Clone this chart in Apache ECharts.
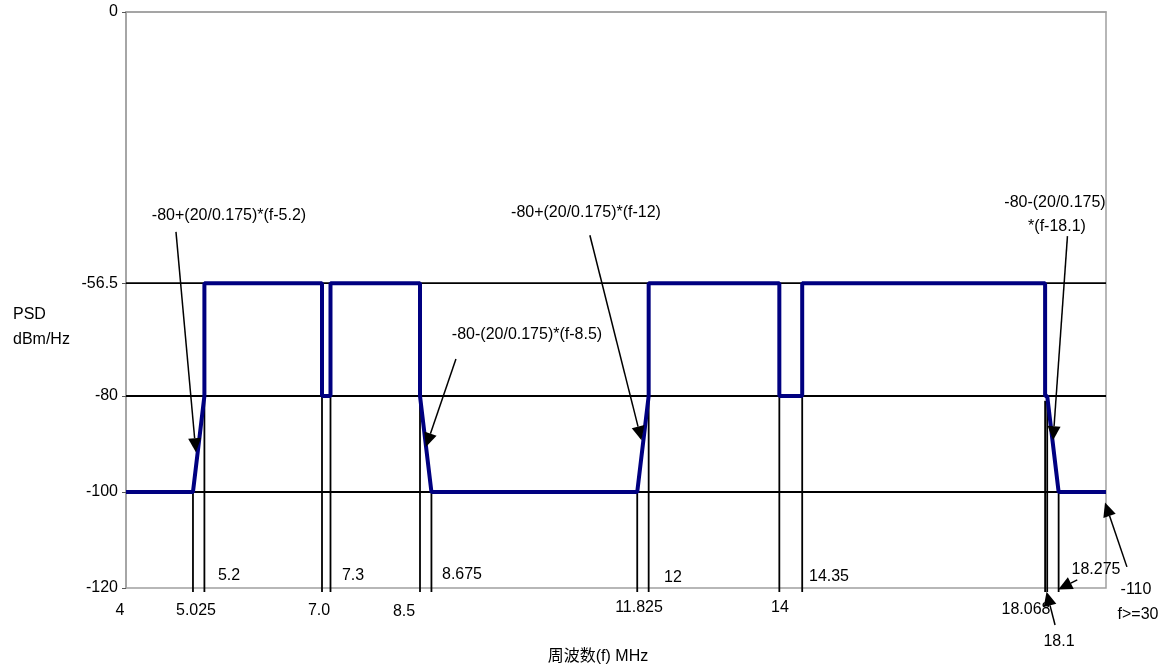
<!DOCTYPE html>
<html>
<head>
<meta charset="utf-8">
<script src="https://cdn.jsdelivr.net/npm/echarts@6/dist/echarts.min.js"></script>
<style>
  html, body { margin: 0; padding: 0; background: #fff; }
  #chart { width: 1172px; height: 670px; }
</style>
</head>
<body>
<div id="chart"></div>
<script>
// PSD mask (step outline), MHz / dBm/Hz
var freq = [4, 5.025, 5.2, 5.2, 7.0, 7.0, 7.13, 7.13, 8.5, 8.5, 8.675, 11.825, 12, 12, 14, 14, 14.35, 14.35, 18.068, 18.068, 18.1, 18.275, 19];
var psd = [-100, -100, -80, -56.5, -56.5, -80, -80, -56.5, -56.5, -80, -100, -100, -80, -56.5, -56.5, -80, -80, -56.5, -56.5, -80, -80, -100, -100];

// vertical guide lines (frequency, level they start from)
var guideFreq = [5.025, 5.2, 7.0, 7.13, 8.5, 8.675, 11.825, 12, 14, 14.35, 18.068, 18.1, 18.275];
var guideTop = [-100, -80, -80, -80, -80, -100, -100, -76, -80, -80, -81, -80, -100];

// horizontal reference levels and y tick labels
var levels = [-56.5, -80, -100];
var yTicks = [0, -56.5, -80, -100, -120];

// annotation arrows: [fromFreq, fromPsd, toFreq, toPsd]
var arrows = [
  [4.765, -45.8, 5.07, -91.7],
  [9.05, -72.3, 8.59, -90.6],
  [11.10, -46.5, 11.89, -89.2],
  [18.41, -46.7, 18.19, -89.2],
  [18.22, -127.7, 18.09, -120.8],
  [18.56, -118.3, 18.27, -120.3],
  [19.32, -115.6, 18.985, -102.2]
];

var font = '"Liberation Sans", Arial, "Noto Sans CJK SC", sans-serif';

// text placed on the picture
var texts = [
  ['5.2', 229, 576], ['7.3', 353, 576], ['8.675', 462, 575], ['12', 673, 578],
  ['14.35', 829, 577], ['18.275', 1096, 570],
  ['4', 120, 611], ['5.025', 196, 611], ['7.0', 319, 611], ['8.5', 404, 612],
  ['11.825', 639, 608], ['14', 780, 608], ['18.068', 1026, 610],
  ['18.1', 1059, 642], ['-110', 1136, 590], ['f>=30', 1138, 615],
  ['-80+(20/0.175)*(f-5.2)', 229, 216],
  ['-80-(20/0.175)*(f-8.5)', 527, 335],
  ['-80+(20/0.175)*(f-12)', 586, 213],
  ['-80-(20/0.175)', 1055, 203], ['*(f-18.1)', 1057, 227],
  ['周波数(f) MHz', 598, 657]
];

var chart = echarts.init(document.getElementById('chart'));

var graphics = texts.map(function (t) {
  return {
    type: 'text', x: t[1], y: t[2], z: 10,
    style: { text: t[0], fill: '#000', font: '16px ' + font, align: 'center', verticalAlign: 'middle' }
  };
});
graphics.push({ type: 'text', x: 13, y: 315, style: { text: 'PSD', fill: '#000', font: '16px ' + font, align: 'left', verticalAlign: 'middle' } });
graphics.push({ type: 'text', x: 13, y: 340, style: { text: 'dBm/Hz', fill: '#000', font: '16px ' + font, align: 'left', verticalAlign: 'middle' } });

var option = {
  animation: false,
  backgroundColor: '#fff',
  grid: { left: 126, right: 66, top: 12, bottom: 82, show: true, borderColor: '#a0a0a0', borderWidth: 1.5 },
  xAxis: {
    type: 'value', min: 4, max: 19,
    axisLine: { show: true, lineStyle: { color: '#a0a0a0', width: 1.5 } },
    axisTick: { show: false },
    axisLabel: { show: false },
    splitLine: { show: false }
  },
  yAxis: {
    type: 'value', min: -120, max: 0,
    axisLine: { show: true, lineStyle: { color: '#a0a0a0', width: 1.5 } },
    axisTick: { show: true, customValues: yTicks, length: 4, lineStyle: { color: '#555' } },
    axisLabel: { customValues: yTicks, color: '#000', fontSize: 16, fontFamily: font, margin: 8 },
    splitLine: { show: false }
  },
  graphic: graphics,
  series: [
    {
      // horizontal level lines
      type: 'custom', z: 1, clip: false, silent: true,
      data: levels.map(function (v) { return [4, v]; }),
      renderItem: function (params, api) {
        var p = api.coord([api.value(0), api.value(1)]);
        var cs = params.coordSys;
        return { type: 'line', shape: { x1: cs.x, y1: p[1], x2: cs.x + cs.width, y2: p[1] }, style: { stroke: '#000', lineWidth: 1.8 } };
      }
    },
    {
      // vertical guide lines
      type: 'custom', z: 1, clip: false, silent: true,
      data: guideFreq.map(function (f, i) { return [f, guideTop[i]]; }),
      renderItem: function (params, api) {
        var top = api.coord([api.value(0), api.value(1)]);
        var base = api.coord([api.value(0), -120]);
        return { type: 'line', shape: { x1: top[0], y1: top[1], x2: top[0], y2: base[1] + 4 }, style: { stroke: '#000', lineWidth: 1.8 } };
      }
    },
    {
      type: 'line', z: 3,
      data: freq.map(function (f, i) { return [f, psd[i]]; }),
      showSymbol: false,
      lineStyle: { color: '#000080', width: 4 }
    },
    {
      // annotation arrows
      type: 'custom', z: 4, clip: false, silent: true,
      data: arrows,
      renderItem: function (params, api) {
        var a = api.coord([api.value(0), api.value(1)]);
        var b = api.coord([api.value(2), api.value(3)]);
        var dx = b[0] - a[0], dy = b[1] - a[1];
        var len = Math.sqrt(dx * dx + dy * dy);
        var ux = dx / len, uy = dy / len;
        var hl = 14, hw = 6.5;
        var bx = b[0] - ux * hl, by = b[1] - uy * hl;
        return {
          type: 'group',
          children: [
            { type: 'line', shape: { x1: a[0], y1: a[1], x2: bx, y2: by }, style: { stroke: '#000', lineWidth: 1.5 } },
            { type: 'polygon', shape: { points: [[b[0], b[1]], [bx - uy * hw, by + ux * hw], [bx + uy * hw, by - ux * hw]] }, style: { fill: '#000' } }
          ]
        };
      }
    }
  ]
};

chart.setOption(option);
</script>
</body>
</html>
